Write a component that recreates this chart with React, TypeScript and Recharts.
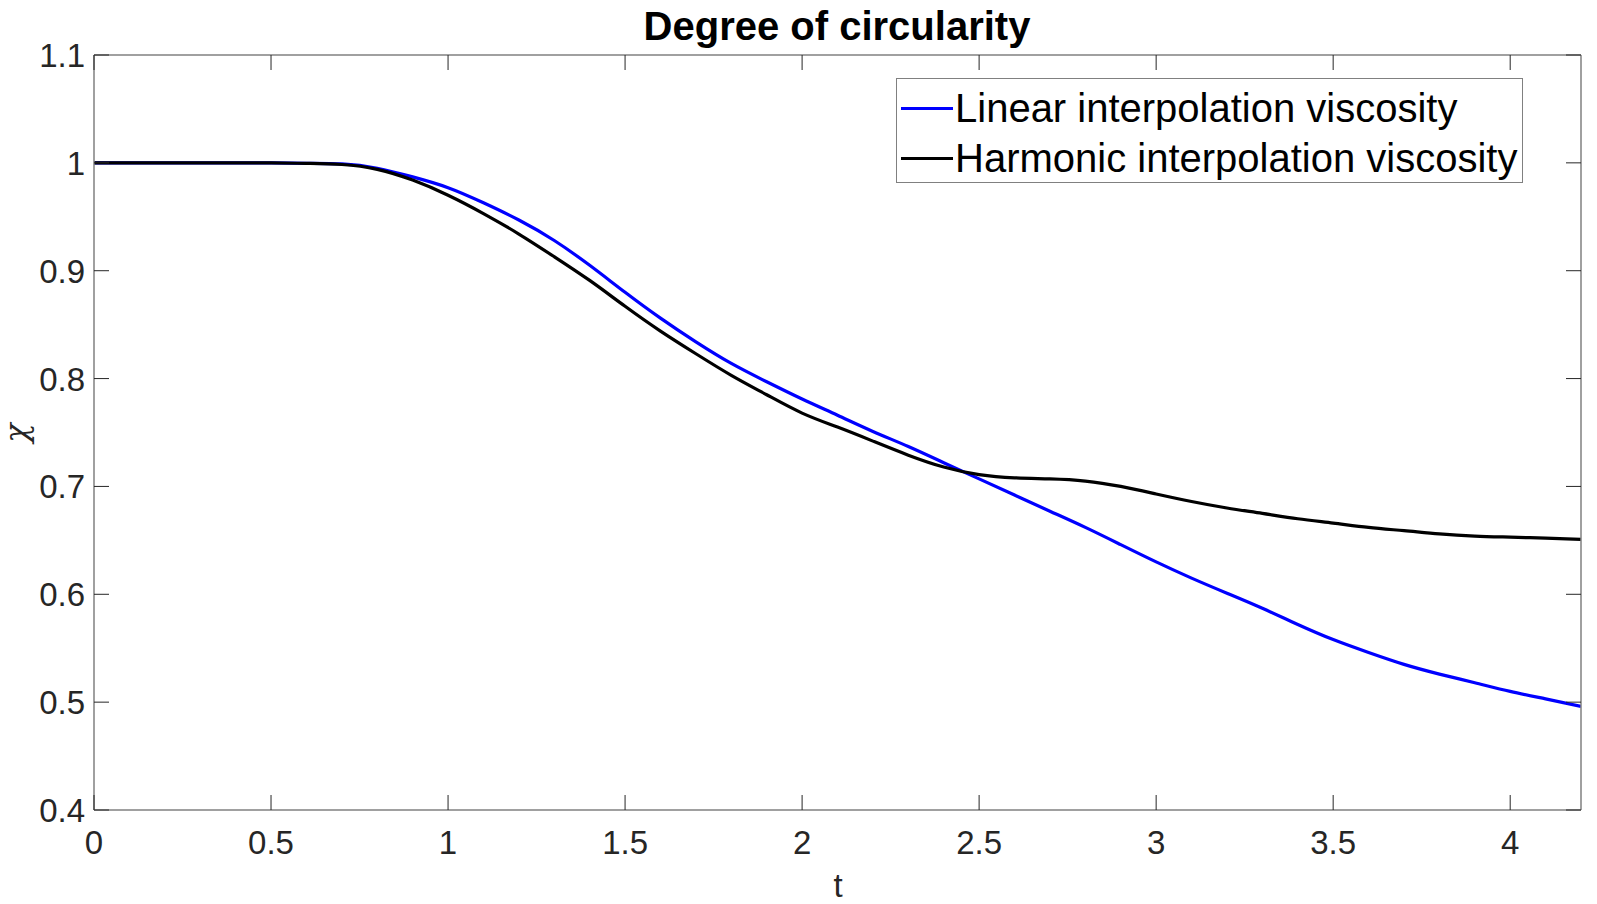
import React from 'react';
import { LineChart, Line, XAxis, YAxis } from 'recharts';

// time samples and the two circularity curves
const tValues = [
  0, 0.1, 0.2, 0.3, 0.4, 0.5, 0.6, 0.7, 0.8, 0.9,
  1.0, 1.1, 1.2, 1.3, 1.4, 1.5, 1.6, 1.7, 1.8, 1.9,
  2.0, 2.1, 2.2, 2.3, 2.4, 2.5, 2.6, 2.7, 2.8, 2.9,
  3.0, 3.1, 3.2, 3.3, 3.4, 3.5, 3.6, 3.7, 3.8, 3.9,
  4.0, 4.1, 4.2,
];

const linearChi = [
  1.0, 1.0, 1.0, 1.0, 1.0, 1.0, 0.9996, 0.999, 0.995, 0.987,
  0.977, 0.963, 0.947, 0.928, 0.905, 0.880, 0.856, 0.834, 0.814, 0.797,
  0.781, 0.766, 0.751, 0.737, 0.722, 0.707, 0.692, 0.677, 0.662, 0.646,
  0.630, 0.615, 0.601, 0.587, 0.572, 0.558, 0.546, 0.535, 0.526, 0.518,
  0.510, 0.503, 0.496,
];

const harmonicChi = [
  1.0, 1.0, 1.0, 1.0, 1.0, 1.0, 0.9995, 0.9985, 0.994, 0.984,
  0.970, 0.953, 0.934, 0.913, 0.891, 0.867, 0.844, 0.823, 0.803, 0.785,
  0.768, 0.755, 0.742, 0.729, 0.718, 0.711, 0.708, 0.707, 0.705, 0.700,
  0.693, 0.686, 0.680, 0.675, 0.670, 0.666, 0.662, 0.659, 0.656, 0.654,
  0.653, 0.652, 0.651,
];

const xTicks = [0, 0.5, 1, 1.5, 2, 2.5, 3, 3.5, 4];
const yTicks = [0.4, 0.5, 0.6, 0.7, 0.8, 0.9, 1, 1.1];

const seriesNames = ['Linear interpolation viscosity', 'Harmonic interpolation viscosity'];
const seriesColors = ['#0000ff', '#000000'];

const FONT = '"Liberation Sans", Arial, Helvetica, sans-serif';
const TICK_COLOR = '#262626';
const BOX_COLOR = '#808080';
const TICK_LEN = 15;

const data = tValues.map((t, i) => ({ t, linear: linearChi[i], harmonic: harmonicChi[i] }));

const BottomTick = (props: any) => {
  const { x, y, payload } = props;
  return (
    <g>
      <line x1={x} x2={x} y1={y} y2={y - TICK_LEN} stroke={TICK_COLOR} strokeWidth={1} />
      <text x={x} y={y + 44} textAnchor="middle" fontSize={33} fontFamily={FONT} fill={TICK_COLOR}>
        {String(payload.value)}
      </text>
    </g>
  );
};

const TopTick = (props: any) => {
  const { x, y } = props;
  return <line x1={x} x2={x} y1={y} y2={y + TICK_LEN} stroke={TICK_COLOR} strokeWidth={1} />;
};

const LeftTick = (props: any) => {
  const { x, y, payload } = props;
  return (
    <g>
      <line x1={x} x2={x + TICK_LEN} y1={y} y2={y} stroke={TICK_COLOR} strokeWidth={1} />
      <text x={x - 9} y={y + 12} textAnchor="end" fontSize={33} fontFamily={FONT} fill={TICK_COLOR}>
        {String(payload.value)}
      </text>
    </g>
  );
};

const RightTick = (props: any) => {
  const { x, y } = props;
  return <line x1={x} x2={x - TICK_LEN} y1={y} y2={y} stroke={TICK_COLOR} strokeWidth={1} />;
};

const ChartLegend = () => (
  <div
    style={{
      position: 'absolute',
      left: 896,
      top: 78,
      width: 627,
      height: 105,
      boxSizing: 'border-box',
      border: `1.5px solid ${BOX_COLOR}`,
      background: '#fff',
      fontFamily: FONT,
      fontSize: 40,
      color: '#000',
    }}
  >
    {seriesNames.map((name, i) => (
      <div
        key={name}
        style={{ position: 'absolute', left: 0, top: 4 + i * 50, height: 50, width: 625 }}
      >
        <div
          style={{
            position: 'absolute',
            left: 4,
            top: 24,
            width: 52,
            height: 3,
            background: seriesColors[i],
          }}
        />
        <span style={{ position: 'absolute', left: 58, top: 0, lineHeight: '50px', whiteSpace: 'nowrap' }}>
          {name}
        </span>
      </div>
    ))}
  </div>
);

export default function App() {
  return (
    <div style={{ position: 'absolute', left: 0, top: 0, width: 1597, height: 904, background: '#fff' }}>
      <LineChart width={1597} height={904} data={data} margin={{ top: 0, right: 0, bottom: 0, left: 0 }}>
        <XAxis
          xAxisId="b"
          dataKey="t"
          type="number"
          domain={[0, 4.2]}
          ticks={xTicks}
          interval={0}
          height={94}
          tickSize={0}
          tickMargin={0}
          tick={<BottomTick />}
          axisLine={{ stroke: BOX_COLOR, strokeWidth: 1.5 }}
          allowDataOverflow
        />
        <XAxis
          xAxisId="t"
          orientation="top"
          dataKey="t"
          type="number"
          domain={[0, 4.2]}
          ticks={xTicks}
          interval={0}
          height={55}
          tickSize={0}
          tickMargin={0}
          tick={<TopTick />}
          axisLine={{ stroke: BOX_COLOR, strokeWidth: 1.5 }}
          allowDataOverflow
        />
        <YAxis
          yAxisId="l"
          type="number"
          domain={[0.4, 1.1]}
          ticks={yTicks}
          interval={0}
          width={94}
          tickSize={0}
          tickMargin={0}
          tick={<LeftTick />}
          axisLine={{ stroke: BOX_COLOR, strokeWidth: 1.5 }}
          allowDataOverflow
        />
        <YAxis
          yAxisId="r"
          orientation="right"
          type="number"
          domain={[0.4, 1.1]}
          ticks={yTicks}
          interval={0}
          width={16}
          tickSize={0}
          tickMargin={0}
          tick={<RightTick />}
          axisLine={{ stroke: BOX_COLOR, strokeWidth: 1.5 }}
          allowDataOverflow
        />
        <Line
          xAxisId="b"
          yAxisId="l"
          dataKey="linear"
          name={seriesNames[0]}
          type="natural"
          stroke={seriesColors[0]}
          strokeWidth={3.2}
          dot={false}
          activeDot={false}
          isAnimationActive={false}
        />
        <Line
          xAxisId="b"
          yAxisId="l"
          dataKey="harmonic"
          name={seriesNames[1]}
          type="natural"
          stroke={seriesColors[1]}
          strokeWidth={3.2}
          dot={false}
          activeDot={false}
          isAnimationActive={false}
        />
      </LineChart>
      <ChartLegend />
      <svg
        width={1597}
        height={904}
        style={{ position: 'absolute', left: 0, top: 0, pointerEvents: 'none' }}
      >
        <text x={837} y={40} textAnchor="middle" fontSize={40} fontWeight="bold" fontFamily={FONT} fill="#000">
          Degree of circularity
        </text>
        <text x={838} y={897} textAnchor="middle" fontSize={33} fontFamily={FONT} fill={TICK_COLOR}>
          t
        </text>
        <text
          x={0}
          y={0}
          transform="translate(27 433) rotate(-90)"
          textAnchor="middle"
          fontSize={32}
          fontFamily='"DejaVu Serif", "Liberation Serif", serif'
          fontStyle="italic"
          fill={TICK_COLOR}
        >
          χ
        </text>
      </svg>
    </div>
  );
}
